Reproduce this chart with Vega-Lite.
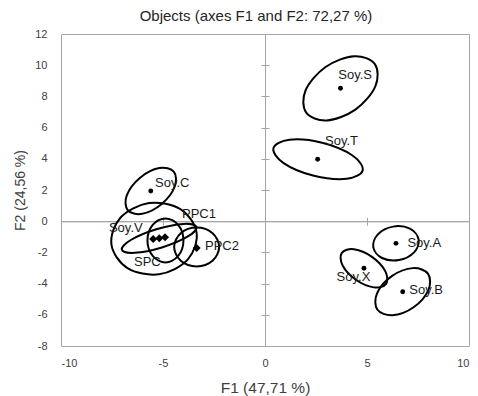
{
  "$schema": "https://vega.github.io/schema/vega-lite/v6.json",
  "width": 408,
  "height": 312,
  "autosize": {"type": "none"},
  "padding": {"left": 61, "top": 34, "right": 9, "bottom": 50},
  "background": "white",
  "title": {"text": "Objects (axes F1 and F2: 72,27 %)", "font": "Liberation Sans", "fontSize": 15, "fontWeight": "normal", "color": "#262626", "offset": 4, "dx": -9},
  "config": {"view": {"stroke": "#a6a6a6", "strokeWidth": 1}, "font": "Liberation Sans"},
  "datasets": {
    "ellipses": [
      {"id": "Soy.C", "i": 0, "x": -4.473, "y": 3.177}, {"id": "Soy.C", "i": 1, "x": -4.424, "y": 2.224}, {"id": "Soy.C", "i": 2, "x": -5.064, "y": 1.105}, {"id": "Soy.C", "i": 3, "x": -6.018, "y": 0.475},
      {"id": "Soy.C", "i": 4, "x": -6.727, "y": 0.703}, {"id": "Soy.C", "i": 5, "x": -6.776, "y": 1.656}, {"id": "Soy.C", "i": 6, "x": -6.136, "y": 2.775}, {"id": "Soy.C", "i": 7, "x": -5.182, "y": 3.405},
      {"id": "Soy.S", "i": 0, "x": 5.386, "y": 10.065}, {"id": "Soy.S", "i": 1, "x": 5.409, "y": 8.647}, {"id": "Soy.S", "i": 2, "x": 4.431, "y": 7.155}, {"id": "Soy.S", "i": 3, "x": 3.025, "y": 6.462},
      {"id": "Soy.S", "i": 4, "x": 2.014, "y": 6.975}, {"id": "Soy.S", "i": 5, "x": 1.991, "y": 8.393}, {"id": "Soy.S", "i": 6, "x": 2.969, "y": 9.885}, {"id": "Soy.S", "i": 7, "x": 4.375, "y": 10.578},
      {"id": "Soy.T", "i": 0, "x": 4.787, "y": 3.256}, {"id": "Soy.T", "i": 1, "x": 4.004, "y": 2.718}, {"id": "Soy.T", "i": 2, "x": 2.398, "y": 2.913}, {"id": "Soy.T", "i": 3, "x": 0.911, "y": 3.727},
      {"id": "Soy.T", "i": 4, "x": 0.413, "y": 4.684}, {"id": "Soy.T", "i": 5, "x": 1.196, "y": 5.222}, {"id": "Soy.T", "i": 6, "x": 2.802, "y": 5.027}, {"id": "Soy.T", "i": 7, "x": 4.289, "y": 4.213},
      {"id": "Soy.A", "i": 0, "x": 7.530, "y": -1.164}, {"id": "Soy.A", "i": 1, "x": 7.307, "y": -1.998}, {"id": "Soy.A", "i": 2, "x": 6.565, "y": -2.493}, {"id": "Soy.A", "i": 3, "x": 5.738, "y": -2.360},
      {"id": "Soy.A", "i": 4, "x": 5.310, "y": -1.676}, {"id": "Soy.A", "i": 5, "x": 5.533, "y": -0.842}, {"id": "Soy.A", "i": 6, "x": 6.275, "y": -0.347}, {"id": "Soy.A", "i": 7, "x": 7.102, "y": -0.480},
      {"id": "Soy.X", "i": 0, "x": 5.934, "y": -4.013}, {"id": "Soy.X", "i": 1, "x": 5.338, "y": -4.242}, {"id": "Soy.X", "i": 2, "x": 4.456, "y": -3.755}, {"id": "Soy.X", "i": 3, "x": 3.805, "y": -2.838},
      {"id": "Soy.X", "i": 4, "x": 3.766, "y": -2.027}, {"id": "Soy.X", "i": 5, "x": 4.362, "y": -1.798}, {"id": "Soy.X", "i": 6, "x": 5.244, "y": -2.285}, {"id": "Soy.X", "i": 7, "x": 5.895, "y": -3.202},
      {"id": "Soy.B", "i": 0, "x": 7.995, "y": -3.379}, {"id": "Soy.B", "i": 1, "x": 8.009, "y": -4.419}, {"id": "Soy.B", "i": 2, "x": 7.285, "y": -5.518}, {"id": "Soy.B", "i": 3, "x": 6.248, "y": -6.032},
      {"id": "Soy.B", "i": 4, "x": 5.505, "y": -5.661}, {"id": "Soy.B", "i": 5, "x": 5.491, "y": -4.621}, {"id": "Soy.B", "i": 6, "x": 6.215, "y": -3.522}, {"id": "Soy.B", "i": 7, "x": 7.252, "y": -3.008},
      {"id": "Soy.V", "i": 0, "x": -3.353, "y": -0.737}, {"id": "Soy.V", "i": 1, "x": -3.791, "y": -2.464}, {"id": "Soy.V", "i": 2, "x": -5.195, "y": -3.404}, {"id": "Soy.V", "i": 3, "x": -6.742, "y": -3.006},
      {"id": "Soy.V", "i": 4, "x": -7.527, "y": -1.503}, {"id": "Soy.V", "i": 5, "x": -7.089, "y": 0.224}, {"id": "Soy.V", "i": 6, "x": -5.685, "y": 1.164}, {"id": "Soy.V", "i": 7, "x": -4.138, "y": 0.766},
      {"id": "SPC", "i": 0, "x": -3.362, "y": -0.370}, {"id": "SPC", "i": 1, "x": -3.801, "y": -0.995}, {"id": "SPC", "i": 2, "x": -5.054, "y": -1.682}, {"id": "SPC", "i": 3, "x": -6.386, "y": -2.028},
      {"id": "SPC", "i": 4, "x": -7.018, "y": -1.830}, {"id": "SPC", "i": 5, "x": -6.579, "y": -1.205}, {"id": "SPC", "i": 6, "x": -5.326, "y": -0.518}, {"id": "SPC", "i": 7, "x": -3.994, "y": -0.172},
      {"id": "PPC1", "i": 0, "x": -3.998, "y": -1.230}, {"id": "PPC1", "i": 1, "x": -4.256, "y": -2.227}, {"id": "PPC1", "i": 2, "x": -4.880, "y": -2.640}, {"id": "PPC1", "i": 3, "x": -5.504, "y": -2.227},
      {"id": "PPC1", "i": 4, "x": -5.762, "y": -1.230}, {"id": "PPC1", "i": 5, "x": -5.504, "y": -0.233}, {"id": "PPC1", "i": 6, "x": -4.880, "y": 0.180}, {"id": "PPC1", "i": 7, "x": -4.256, "y": -0.233},
      {"id": "PPC2", "i": 0, "x": -2.247, "y": -1.650}, {"id": "PPC2", "i": 1, "x": -2.570, "y": -2.534}, {"id": "PPC2", "i": 2, "x": -3.350, "y": -2.900}, {"id": "PPC2", "i": 3, "x": -4.130, "y": -2.534},
      {"id": "PPC2", "i": 4, "x": -4.453, "y": -1.650}, {"id": "PPC2", "i": 5, "x": -4.130, "y": -0.766}, {"id": "PPC2", "i": 6, "x": -3.350, "y": -0.400}, {"id": "PPC2", "i": 7, "x": -2.570, "y": -0.766}
    ],
    "points": [
      {"label": "Soy.S", "group": "Soy", "x": 3.70, "y": 8.52, "lx": 3.59, "ly": 9.40},
      {"label": "Soy.T", "group": "Soy", "x": 2.58, "y": 3.97, "lx": 2.94, "ly": 5.11},
      {"label": "Soy.C", "group": "Soy", "x": -5.60, "y": 1.94, "lx": -5.39, "ly": 2.48},
      {"label": "Soy.A", "group": "Soy", "x": 6.42, "y": -1.42, "lx": 6.98, "ly": -1.40},
      {"label": "Soy.X", "group": "Soy", "x": 4.85, "y": -3.02, "lx": 3.51, "ly": -3.56},
      {"label": "Soy.B", "group": "Soy", "x": 6.75, "y": -4.52, "lx": 7.07, "ly": -4.41},
      {"label": "Soy.V", "group": "Product", "x": -5.48, "y": -1.14, "lx": -7.65, "ly": -0.44},
      {"label": "SPC", "group": "Product", "x": -5.18, "y": -1.10, "lx": -6.42, "ly": -2.62},
      {"label": "PPC1", "group": "Product", "x": -4.90, "y": -1.03, "lx": -4.07, "ly": 0.43},
      {"label": "PPC2", "group": "Product", "x": -3.35, "y": -1.72, "lx": -2.94, "ly": -1.59}
    ]
  },
  "layer": [
    {
      "data": {"name": "ellipses"},
      "mark": {"type": "line", "interpolate": "cardinal-closed", "stroke": "black", "strokeWidth": 2},
      "encoding": {
        "x": {"field": "x", "type": "quantitative", "scale": {"domain": [-10, 10], "nice": false, "zero": false},
          "axis": {"orient": "bottom", "domain": false, "ticks": false, "grid": false, "values": [-10, -5, 0, 5, 10], "labelExpr": "datum.value < 0 ? '-' + abs(datum.value) : '' + datum.value", "labelPadding": 11, "labelFontSize": 11, "labelColor": "#404040", "labelFont": "Liberation Sans", "title": "F1 (47,71 %)", "titleFont": "Liberation Sans", "titleFontSize": 15.5, "titleFontWeight": "normal", "titleColor": "#404040", "titlePadding": 12}},
        "y": {"field": "y", "type": "quantitative", "scale": {"domain": [-8, 12], "nice": false, "zero": false},
          "axis": {"orient": "left", "domain": false, "ticks": false, "grid": false, "values": [-8, -6, -4, -2, 0, 2, 4, 6, 8, 10, 12], "labelExpr": "datum.value < 0 ? '-' + abs(datum.value) : '' + datum.value", "labelPadding": 14, "labelFontSize": 11, "labelColor": "#404040", "labelFont": "Liberation Sans", "title": "F2 (24,56 %)", "titleFont": "Liberation Sans", "titleFontSize": 14, "titleFontWeight": "normal", "titleColor": "#404040", "titlePadding": 7}},
        "detail": {"field": "id"},
        "order": {"field": "i", "type": "quantitative"}
      }
    },
    {
      "data": {"name": "points"},
      "mark": {"type": "point", "filled": true, "color": "black", "opacity": 1},
      "encoding": {
        "x": {"field": "x", "type": "quantitative", "scale": {"domain": [-10, 10], "nice": false, "zero": false},
          "axis": {"orient": "bottom", "offset": -124.8, "domain": true, "domainColor": "#a6a6a6", "ticks": true, "tickSize": 4, "tickColor": "#a6a6a6", "labels": false, "grid": false, "title": null, "values": [-10, -5, 0, 5, 10]}},
        "y": {"field": "y", "type": "quantitative", "scale": {"domain": [-8, 12], "nice": false, "zero": false},
          "axis": {"orient": "left", "offset": -204, "domain": true, "domainColor": "#a6a6a6", "ticks": true, "tickSize": 4, "tickColor": "#a6a6a6", "labels": false, "grid": false, "title": null, "values": [-8, -6, -4, -2, 0, 2, 4, 6, 8, 10, 12]}},
        "shape": {"field": "group", "type": "nominal", "scale": {"domain": ["Soy", "Product"], "range": ["circle", "diamond"]}, "legend": null},
        "size": {"field": "group", "type": "nominal", "scale": {"domain": ["Soy", "Product"], "range": [24, 64]}, "legend": null}
      }
    },
    {
      "data": {"name": "points"},
      "mark": {"type": "text", "align": "left", "baseline": "middle", "font": "Liberation Sans", "fontSize": 13, "color": "#1a1a1a"},
      "encoding": {
        "x": {"field": "lx", "type": "quantitative", "scale": {"domain": [-10, 10], "nice": false, "zero": false},
          "axis": {"orient": "top", "offset": -187.2, "domain": true, "domainColor": "#a6a6a6", "ticks": true, "tickSize": 4, "tickColor": "#a6a6a6", "labels": false, "grid": false, "title": null, "values": [-10, -5, 0, 5, 10]}},
        "y": {"field": "ly", "type": "quantitative", "scale": {"domain": [-8, 12], "nice": false, "zero": false},
          "axis": {"orient": "right", "offset": -204, "domain": true, "domainColor": "#a6a6a6", "ticks": true, "tickSize": 4, "tickColor": "#a6a6a6", "labels": false, "grid": false, "title": null, "values": [-8, -6, -4, -2, 0, 2, 4, 6, 8, 10, 12]}},
        "text": {"field": "label", "type": "nominal"}
      }
    }
  ],
  "resolve": {"axis": {"x": "independent", "y": "independent"}}
}
